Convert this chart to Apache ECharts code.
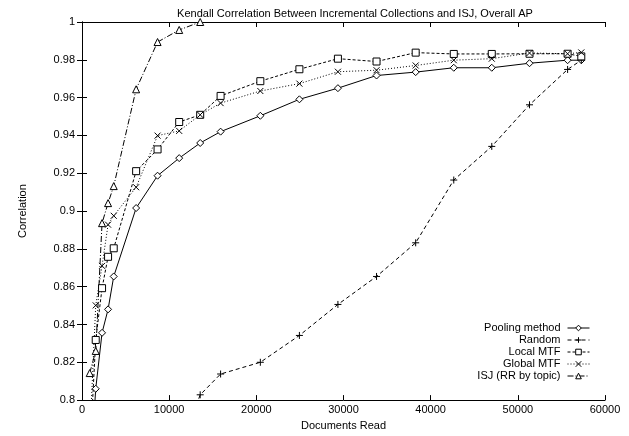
<!DOCTYPE html>
<html>
<head>
<meta charset="utf-8">
<script src="https://cdn.jsdelivr.net/npm/echarts@6/dist/echarts.min.js"></script>
<style>
  html, body { margin: 0; padding: 0; background: #fff; }
  #chart { width: 629px; height: 436px; }
</style>
</head>
<body>
<div id="chart"></div>
<script>
// documents read (x) for each sample step
const docs = [885, 1575, 2300, 2990, 3640, 6210, 8670, 11150, 13560, 15900, 20460,
  24940, 29360, 33790, 38280, 42650, 47010, 51340, 55710, 57280];

const pooling = [0.755, 0.806, 0.8356, 0.848, 0.8654, 0.9016, 0.9187, 0.928, 0.936, 0.942, 0.9504,
  0.9591, 0.965, 0.9717, 0.9735, 0.9758, 0.9758, 0.9782, 0.9798, 0.9798];
const random = [null, null, null, null, null, null, null, 0.773, 0.8028, 0.8138, 0.82,
  0.8342, 0.8506, 0.8654, 0.8832, 0.9164, 0.9342, 0.9562, 0.9749, 0.9798];
const localMtf = [0.77, 0.8318, 0.8592, 0.8758, 0.8803, 0.9211, 0.9326, 0.9471, 0.9509, 0.9609, 0.9687,
  0.975, 0.9806, 0.9791, 0.9838, 0.9831, 0.9831, 0.9832, 0.9832, 0.9818];
const globalMtf = [0.78, 0.8501, 0.871, 0.8928, 0.8975, 0.9126, 0.9399, 0.9424, 0.9509, 0.9571, 0.9635,
  0.9674, 0.9737, 0.9745, 0.977, 0.9798, 0.9806, 0.9836, 0.9832, 0.9839];
const isj = [0.8143, 0.826, 0.8936, 0.9042, 0.9132, 0.9644, 0.9894, 0.9958, 1.0];

const seriesNames = ["Pooling method", "Random", "Local MTF", "Global MTF", "ISJ (RR by topic)"];

const font = "Liberation Sans, Arial, sans-serif";
const plusPath = "path://M0,5L10,5M5,0L5,10";
const crossPath = "path://M0,0L10,10M0,10L10,0";

function pairs(vals) {
  const out = [];
  vals.forEach((v, i) => { if (v != null) out.push([docs[i], v]); });
  return out;
}

function mkSeries(name, vals, symbol, size, dash) {
  return {
    name: name,
    type: "line",
    data: pairs(vals),
    symbol: symbol,
    symbolSize: size,
    clip: true,
    animation: false,
    lineStyle: { color: "#000", width: 1, type: dash },
    itemStyle: { color: "#fff", borderColor: "#000", borderWidth: 1 }
  };
}

const chart = echarts.init(document.getElementById("chart"), null, { renderer: "canvas" });

const axisCommon = {
  axisLine: { show: true, lineStyle: { color: "#000", width: 1 } },
  axisTick: { show: true, inside: true, length: 5, lineStyle: { color: "#000" } },
  splitLine: { show: false }
};

chart.setOption({
  backgroundColor: "#fff",
  animation: false,
  title: {
    text: "Kendall Correlation Between Incremental Collections and ISJ, Overall AP",
    left: 350, top: 3, textAlign: "center",
    textStyle: { fontFamily: font, fontSize: 11, fontWeight: "normal", color: "#000" }
  },
  grid: { left: 82, right: 24, top: 22, bottom: 32 },
  legend: {
    data: seriesNames,
    orient: "vertical",
    right: 39, top: 322, padding: 0,
    align: "right",
    itemWidth: 22, itemHeight: 7, itemGap: 0,
    lineStyle: { width: 1 },
    itemStyle: { borderWidth: 1 },
    textStyle: { fontFamily: font, fontSize: 11, color: "#000", lineHeight: 12, padding: [0, 2, 0, 0] }
  },
  xAxis: [
    Object.assign({
      type: "value", min: 0, max: 60000, interval: 10000,
      name: "Documents Read", nameLocation: "middle", nameGap: 17,
      nameTextStyle: { fontFamily: font, fontSize: 11, color: "#000" },
      axisLabel: { fontFamily: font, fontSize: 11, color: "#000", margin: 4, formatter: v => String(v) }
    }, axisCommon),
    Object.assign({
      type: "value", min: 0, max: 60000, interval: 10000, position: "top",
      axisLabel: { show: false }
    }, axisCommon)
  ],
  yAxis: [
    Object.assign({
      type: "value", min: 0.8, max: 1, interval: 0.02,
      name: "Correlation", nameLocation: "middle", nameGap: 54,
      nameTextStyle: { fontFamily: font, fontSize: 11, color: "#000" },
      axisLabel: { fontFamily: font, fontSize: 11, color: "#000", margin: 7 }
    }, axisCommon),
    Object.assign({
      type: "value", min: 0.8, max: 1, interval: 0.02, position: "right",
      axisLabel: { show: false }
    }, axisCommon)
  ],
  series: [
    mkSeries(seriesNames[0], pooling, "diamond", 7, "solid"),
    mkSeries(seriesNames[1], random, plusPath, 7, [4, 3]),
    mkSeries(seriesNames[2], localMtf, "rect", 7, [3, 2]),
    mkSeries(seriesNames[3], globalMtf, crossPath, 6, [1, 2]),
    mkSeries(seriesNames[4], isj, "triangle", 7, [6, 2, 1, 2])
  ]
});
</script>
</body>
</html>
